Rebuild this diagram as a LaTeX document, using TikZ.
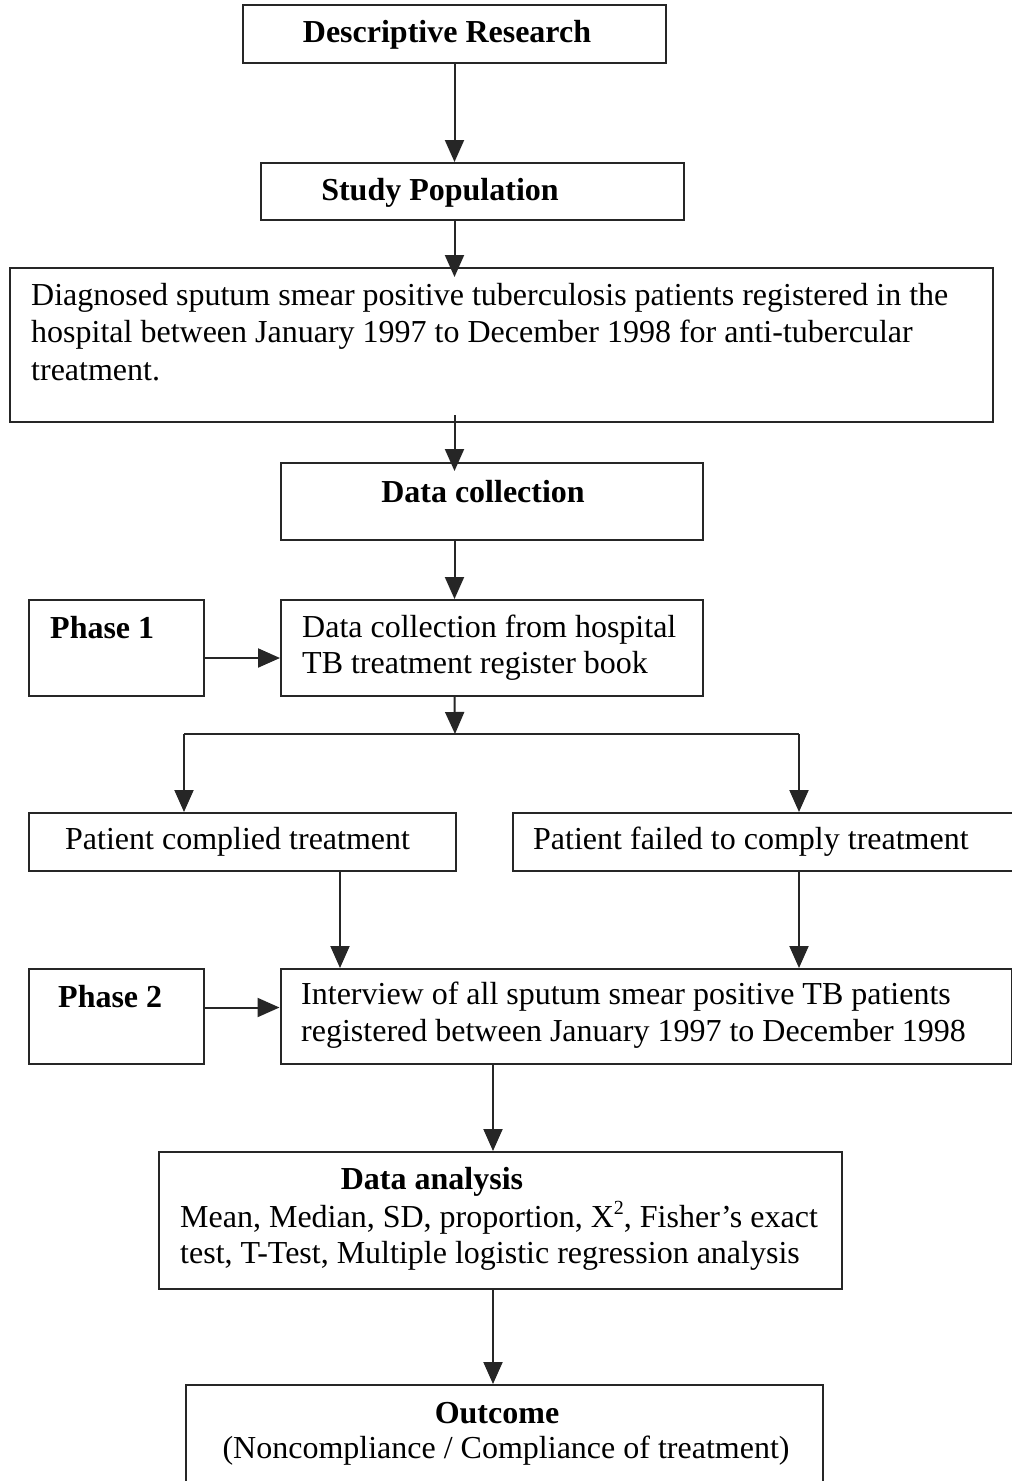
\documentclass[tikz,border=0pt]{standalone}
\usepackage{fontspec}
\setmainfont{Liberation Serif}
\usetikzlibrary{arrows.meta}
\tikzset{
  box/.style={draw=black!85, line width=2pt, rectangle, inner sep=0pt},
  txt/.style={inner sep=0pt, font=\fontsize{32}{37}\selectfont, text=black},
  btxt/.style={txt, font=\fontsize{32}{37}\selectfont\bfseries},
  arr/.style={draw=black!85, line width=2pt, -{Triangle[length=22pt,width=19pt]}},
  ln/.style={draw=black!85, line width=2pt}
}
\begin{document}
\begin{tikzpicture}[x=1pt,y=-1pt]
\clip (0,0) rectangle (1012,1481);
\fill[white] (0,0) rectangle (1012,1481);
% boxes
\node[box, minimum width=423pt, minimum height=58pt] (desc) at (454.5,34) {};
\node[box, minimum width=423pt, minimum height=57pt] (pop)  at (472.5,191.5) {};
\node[box, minimum width=983pt, minimum height=154pt] (diag) at (501.5,345) {};
\node[box, minimum width=422pt, minimum height=77pt] (dc)   at (492,501.5) {};
\node[box, minimum width=175pt, minimum height=96pt] (ph1)  at (116.5,648) {};
\node[box, minimum width=422pt, minimum height=96pt] (dch)  at (492,648) {};
\node[box, minimum width=427pt, minimum height=58pt] (comp) at (242.5,842) {};
\node[box, minimum width=500pt, minimum height=58pt] (fail) at (763,842) {};
\node[box, minimum width=175pt, minimum height=95pt] (ph2)  at (116.5,1016.5) {};
\node[box, minimum width=731pt, minimum height=95pt] (intv) at (646,1016.5) {};
\node[box, minimum width=683pt, minimum height=137pt] (ana)  at (500.5,1220.5) {};
\node[box, minimum width=637pt, minimum height=120pt] (out)  at (504,1445) {};
% texts
\node[btxt, anchor=base] (tdesc) at (447,42) {Descriptive Research};
\node[btxt, anchor=base] (tpop) at (440,200) {Study Population};
\node[txt, anchor=base west] (tdiag1) at (31,305) {Diagnosed sputum smear positive tuberculosis patients registered in the};
\node[txt, anchor=base west] (tdiag2) at (31,342) {hospital between January 1997 to December 1998 for anti-tubercular};
\node[txt, anchor=base west] (tdiag3) at (31,380) {treatment.};
\node[btxt, anchor=base] (tdc) at (483,502) {Data collection};
\node[btxt, anchor=base west] (tph1) at (50,638) {Phase 1};
\node[txt, anchor=base west] (tdch1) at (302,637) {Data collection from hospital};
\node[txt, anchor=base west] (tdch2) at (302,673) {TB treatment register book};
\node[txt, anchor=base west] (tcomp) at (65,849) {Patient complied treatment};
\node[txt, anchor=base west] (tfail) at (533,849) {Patient failed to comply treatment};
\node[btxt, anchor=base west] (tph2) at (58,1007) {Phase 2};
\node[txt, anchor=base west] (tint1) at (301,1004) {Interview of all sputum smear positive TB patients};
\node[txt, anchor=base west] (tint2) at (301,1041) {registered between January 1997 to December 1998};
\node[btxt, anchor=base] (tana) at (432,1189) {Data analysis};
\node[txt, anchor=base west] (tana1) at (180,1227) {Mean, Median, SD, proportion, X\raisebox{13pt}{\fontsize{20}{20}\selectfont 2}, Fisher’s exact};
\node[txt, anchor=base west] (tana2) at (180,1263) {test, T-Test, Multiple logistic regression analysis};
\node[btxt, anchor=base] (tout) at (497,1423) {Outcome};
\node[txt, anchor=base] (tout1) at (506,1458) {(Noncompliance / Compliance of treatment)};
% junction coordinates
\coordinate (j)  at (455,734);
\coordinate (jl) at (184,734);
\coordinate (jr) at (799,734);
% connectors
\draw[arr] (desc.south) -- (desc.south |- pop.north);
\draw[arr, shorten >=-10pt] (desc.south |- pop.south) -- (desc.south |- diag.north);
\draw[arr, shorten <=-8pt, shorten >=-9pt] (desc.south |- diag.south) -- (desc.south |- dc.north);
\draw[arr] (desc.south |- dc.south) -- (desc.south |- dch.north);
\draw[arr] ([yshift=-10pt]ph1.east) -- ([yshift=-10pt]dch.west);
\draw[arr] (desc.south |- dch.south) -- (j);
\draw[ln] (jl) -- (jr);
\draw[arr] (jl) -- (jl |- comp.north);
\draw[arr] (jr) -- (jr |- fail.north);
\draw[arr] (comp.south -| 340,0) -- (intv.north -| 340,0);
\draw[arr] (jr |- fail.south) -- (jr |- intv.north);
\draw[arr] ([yshift=9pt]ph2.east) -- ([yshift=9pt]intv.west);
\draw[arr] (intv.south -| 493,0) -- (ana.north -| 493,0);
\draw[arr] (ana.south -| 493,0) -- (out.north -| 493,0);
\end{tikzpicture}
\end{document}
